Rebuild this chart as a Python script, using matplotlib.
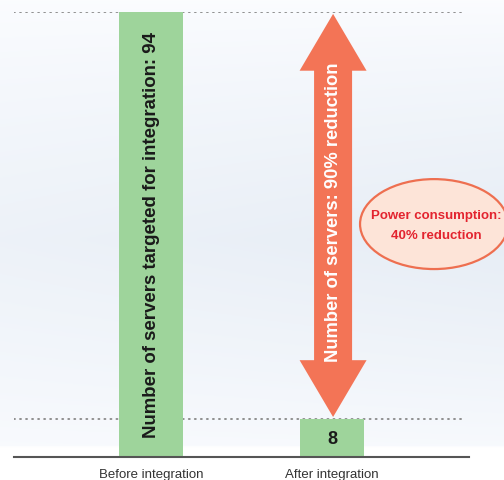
import numpy as np
import matplotlib
matplotlib.use("Agg")
import matplotlib.pyplot as plt
from matplotlib.patches import Ellipse, Polygon

plt.rcParams["font.family"] = ["Liberation Sans", "DejaVu Sans"]

# data
categories = ["Before integration", "After integration"]
servers = [94, 8]
bar_labels = ["Number of servers targeted for integration: 94", "8"]
arrow_label = "Number of servers: 90% reduction"
bubble_label = "Power consumption:\n40% reduction"

green = "#9ed49b"
orange = "#f37456"

fig = plt.figure(figsize=(5.04, 4.81), dpi=100)

# background gradient
bg = fig.add_axes([0, 0, 1, 1])
yy = np.linspace(0, 1, 200)[:, None]
xx = np.linspace(0, 1, 200)[None, :]
top = np.array([0.985, 0.99, 1.0])
mid = np.array([0.905, 0.93, 0.962])
t = np.clip(1 - np.abs(yy - 0.5) / 0.5, 0, 1) ** 0.8 * (0.7 + 0.3 * xx)
img = top[None, None, :] * (1 - t[..., None]) + mid[None, None, :] * t[..., None]
img[yy[:, 0] > 0.93] = np.array([1.0, 1.0, 1.0])
bg.imshow(img, extent=[0, 1, 0, 1], aspect="auto", origin="upper")
bg.axis("off")

ax = fig.add_axes([14 / 504, 23 / 481, 455 / 504, 445 / 481])
ax.patch.set_alpha(0)
x = np.arange(len(categories))
ax.bar(x, servers, width=0.354, color=green, zorder=2)
ax.set_xlim(-0.757, 1.757)
ax.set_ylim(0, max(servers))

for v in servers:
    ax.axhline(v, xmin=0, xmax=0.993, color="#8f8f8f", lw=1.4,
               linestyle=(0, (0.5, 2.6)), dash_capstyle="round", zorder=1)

for s in ["top", "right", "left"]:
    ax.spines[s].set_visible(False)
ax.spines["bottom"].set_color("#555555")
ax.spines["bottom"].set_linewidth(1.5)
ax.set_yticks([])
ax.set_xticks(x)
ax.set_xticklabels(categories, fontsize=9.5, color="#333333")
ax.tick_params(axis="x", length=0, pad=8)

# bar texts
ax.text(x[0], 47.2, bar_labels[0], rotation=90, ha="center", va="center",
        fontsize=13.4, fontweight="bold", color="#1a1a1a", zorder=3)
ax.text(x[1], servers[1] / 2, bar_labels[1], ha="center", va="center",
        fontsize=13, fontweight="bold", color="#1a1a1a", zorder=3)

# double arrow between the two values
y_hi = servers[0] - 0.4
y_lo = servers[1] + 0.45
hl = 12.0
hw = 0.185
sw = 0.105
cx = x[1] + 0.006
pts = [(cx, y_hi), (cx + hw, y_hi - hl), (cx + sw, y_hi - hl),
       (cx + sw, y_lo + hl), (cx + hw, y_lo + hl), (cx, y_lo),
       (cx - hw, y_lo + hl), (cx - sw, y_lo + hl), (cx - sw, y_hi - hl),
       (cx - hw, y_hi - hl)]
ax.add_patch(Polygon(pts, closed=True, color=orange, zorder=3, lw=0))
ax.text(cx, (y_hi + y_lo) / 2 + 0.8, arrow_label, rotation=90, ha="center",
        va="center", fontsize=13.2, fontweight="bold", color="white", zorder=4)

# bubble
ax.add_patch(Ellipse((1.564, 49.2), 0.818, 19.0, facecolor="#fde4d8",
                     edgecolor="#ee6f50", lw=1.6, zorder=3, clip_on=False))
ax.text(1.575, 49.0, bubble_label, ha="center", va="center", fontsize=9.5,
        fontweight="bold", color="#e3242f", linespacing=1.95, zorder=4,
        clip_on=False)

fig.savefig("out.png", dpi=100)
